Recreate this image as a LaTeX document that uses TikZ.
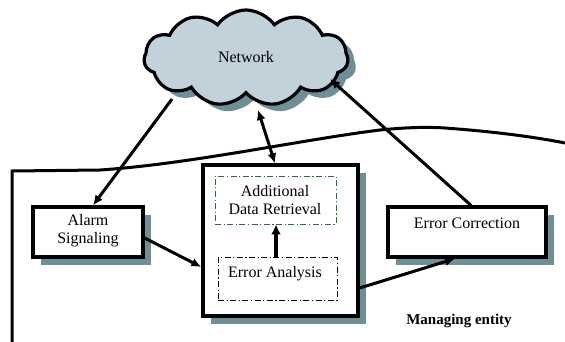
\documentclass[tikz,border=0pt]{standalone}
\usepackage{fontspec}
\setmainfont{Liberation Serif}
\usetikzlibrary{shapes.symbols,shadows,arrows.meta}
\definecolor{cloudfill}{HTML}{C2D2DA}
\definecolor{shadowcol}{HTML}{6F8F96}
\definecolor{dgreen}{HTML}{2E6B2E}
\tikzset{
  box/.style={draw=black, line width=3.3pt, fill=white,
    drop shadow={shadow xshift=8pt, shadow yshift=-8pt, fill=shadowcol, opacity=1}},
  inner/.style={draw, line width=0.9pt, dash pattern=on 6pt off 2.5pt on 1.2pt off 2.5pt},
  conn/.style={line width=3pt, -{Latex[length=10pt,width=9pt]}},
  txt/.style={font=\fontsize{16}{18}\selectfont, align=center, inner sep=0pt},
}
\begin{document}
\begin{tikzpicture}[x=1pt,y=-1pt]
\useasboundingbox (0,0) rectangle (565,342);
% managing entity boundary
\draw[line width=3pt] (12,342) -- (12,171) -- (100,170)
  .. controls (190,164) and (300,140) .. (380,130)
  .. controls (410,127) and (430,127) .. (445,128)
  .. controls (500,132) and (540,138) .. (565,143);
% cloud
\node[cloud, cloud puffs=11, cloud puff arc=110, aspect=2.1, draw=black, line width=3.2pt, fill=cloudfill,
  minimum width=204pt, minimum height=96pt, inner sep=0pt,
  drop shadow={shadow xshift=8pt, shadow yshift=-7pt, fill=shadowcol, opacity=1}]
  (net) at (246,58) {};
\node[txt] (nettxt) at (246,57) {Network};
% boxes
\node[box, minimum width=110pt, minimum height=50pt, inner sep=0pt] (alarm) at (88,232) {};
\node[txt] (alarmtxt) at (88,231) {Alarm\\Signaling};
\node[box, minimum width=155pt, minimum height=151pt, inner sep=0pt] (big) at (280.5,240.5) {};
\node[inner, draw=dgreen, minimum width=121pt, minimum height=48pt] (adr) at (275.5,200) {};
\node[txt] (adrtxt) at (275,200) {Additional\\Data Retrieval};
\node[inner, minimum width=119pt, minimum height=43pt] (ea) at (277.5,278.5) {};
\node[txt] (eatxt) at (275,274) {Error Analysis};
\node[box, minimum width=158pt, minimum height=50pt, inner sep=0pt] (ec) at (467,232) {};
\node[txt] (ectxt) at (467,223) {Error Correction};
\node[font=\bfseries\fontsize{15}{17}\selectfont, inner sep=0pt] (me) at (459,321) {Managing entity};
% connectors
\coordinate (c1) at (172,99);
\draw[conn] (c1) -- (alarm.north east -| 93,0);
\draw[conn] (alarm.east |- 0,238) -- (big.west |- 0,267);
\draw[conn] (big.east |- 0,288) -- (ec.south west -| 455,0);
\coordinate (c2) at (330,79);
\draw[conn] (ec.north -| 471,0) -- (c2);
\coordinate (c3) at (258,110);
\draw[line width=3pt, {Latex[length=10pt,width=9pt]}-{Latex[length=10pt,width=9pt]}] (c3) -- (big.north -| 275,0);
\draw[line width=3.6pt, -{Latex[length=10pt,width=10pt]}] (ea.north -| 276,0) -- (adr.south -| 276,0);
\end{tikzpicture}
\end{document}
